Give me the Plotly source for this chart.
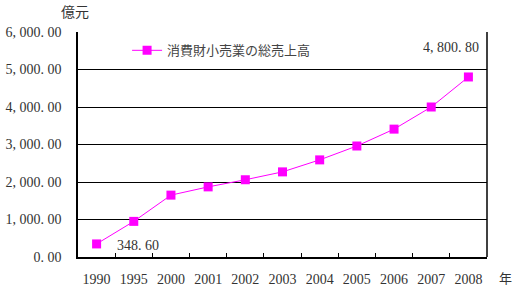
import plotly.graph_objects as go

years = ["1990", "1995", "2000", "2001", "2002", "2003", "2004", "2005", "2006", "2007", "2008"]
sales = [348.60, 950, 1650, 1870, 2060, 2270, 2590, 2960, 3410, 4000, 4800.80]
series_name = "消費財小売業の総売上高"
y_ticks = [0, 1000, 2000, 3000, 4000, 5000, 6000]
y_tick_labels = ["0. 00", "1, 000. 00", "2, 000. 00", "3, 000. 00", "4, 000. 00", "5, 000. 00", "6, 000. 00"]
label_first = "348. 60"
label_last = "4, 800. 80"

SERIF = "Liberation Serif, Noto Sans CJK JP"
CJK = "Noto Sans CJK JP"
MAG = "#FF00FF"

fig = go.Figure()
fig.add_trace(go.Scatter(
    x=years, y=sales, mode="lines+markers", name=series_name,
    line=dict(color=MAG, width=1),
    marker=dict(symbol="square", size=9, color=MAG),
))

fig.add_annotation(x=0, y=sales[0], text=label_first, showarrow=False,
                   xanchor="left", yanchor="middle", xshift=18, yshift=-2,
                   font=dict(family=SERIF, size=14, color="#333"))
fig.add_annotation(x=1.0, xref="paper", y=5600, text=label_last, showarrow=False,
                   xanchor="right", yanchor="middle", xshift=-6,
                   font=dict(family=SERIF, size=14, color="#333"))
fig.add_annotation(x=-0.008, xref="paper", y=1.0, yref="paper", text="億元", showarrow=False,
                   xanchor="center", yanchor="bottom", yshift=9,
                   font=dict(family=CJK, size=14, color="#333"))
fig.add_annotation(x=1.0, xref="paper", y=0, yref="paper", text="年", showarrow=False,
                   xanchor="center", yanchor="middle", xshift=18, yshift=-20,
                   font=dict(family=CJK, size=13, color="#333"))

fig.update_layout(
    width=512, height=304,
    margin=dict(l=78, r=25, t=32, b=47, autoexpand=False),
    paper_bgcolor="white", plot_bgcolor="white",
    showlegend=True,
    legend=dict(x=0.12, y=0.985, xanchor="left", yanchor="top",
                bgcolor="rgba(0,0,0,0)", font=dict(family=CJK, size=13, color="#444"),
                itemwidth=30),
    xaxis=dict(type="category", tickson="boundaries", ticks="inside", ticklen=4,
               tickcolor="black", showgrid=False, showline=True, linecolor="black",
               linewidth=1.5, mirror=False, tickfont=dict(family=SERIF, size=14, color="#333"),
               tickangle=0, automargin=False,
               ticklabelstandoff=8, range=[-0.5, 10.5]),
    yaxis=dict(range=[0, 6000], tickvals=y_ticks, ticktext=y_tick_labels,
               showgrid=True, gridcolor="black", gridwidth=1, showline=True,
               linecolor="black", linewidth=1.5, ticks="", zeroline=False,
               ticklabelstandoff=12, automargin=False,
               tickfont=dict(family=SERIF, size=14, color="#333")),
)
fig.add_shape(type="line", xref="paper", yref="paper", x0=1, x1=1, y0=0, y1=1,
              line=dict(color="black", width=1.5))

fig.write_html("out.html")
